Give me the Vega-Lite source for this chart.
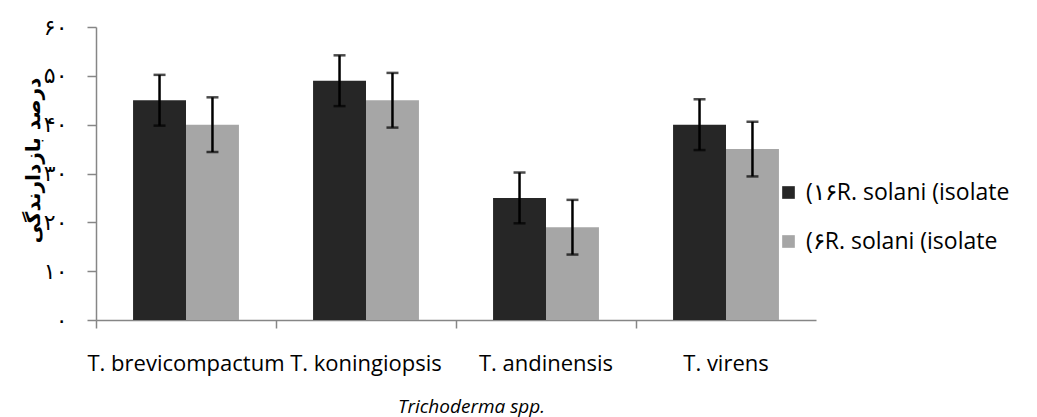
{
  "$schema": "https://vega.github.io/schema/vega-lite/v6.json",
  "width": 720,
  "height": 293,
  "autosize": {"type": "none"},
  "padding": {"left": 96, "top": 27, "right": 221, "bottom": 97},
  "background": "white",
  "data": {
    "values": [
      {"species": "T. brevicompactum", "isolate": "(۱۶R. solani (isolate", "value": 45, "lo": 39.8, "hi": 50.2},
      {"species": "T. brevicompactum", "isolate": "(۶R. solani (isolate", "value": 40, "lo": 34.4, "hi": 45.6},
      {"species": "T. koningiopsis", "isolate": "(۱۶R. solani (isolate", "value": 49, "lo": 43.8, "hi": 54.2},
      {"species": "T. koningiopsis", "isolate": "(۶R. solani (isolate", "value": 45, "lo": 39.4, "hi": 50.6},
      {"species": "T. andinensis", "isolate": "(۱۶R. solani (isolate", "value": 25, "lo": 19.8, "hi": 30.2},
      {"species": "T. andinensis", "isolate": "(۶R. solani (isolate", "value": 19, "lo": 13.4, "hi": 24.6},
      {"species": "T. virens", "isolate": "(۱۶R. solani (isolate", "value": 40, "lo": 34.8, "hi": 45.2},
      {"species": "T. virens", "isolate": "(۶R. solani (isolate", "value": 35, "lo": 29.4, "hi": 40.6}
    ]
  },
  "encoding": {
    "x": {
      "field": "species",
      "type": "nominal",
      "sort": ["T. brevicompactum", "T. koningiopsis", "T. andinensis", "T. virens"],
      "scale": {"paddingInner": 0, "paddingOuter": 0},
      "title": "Trichoderma  spp.",
      "axis": {
        "bandPosition": 0,
        "labelAngle": 0,
        "labelFont": "Open Sans",
        "labelFontSize": 22,
        "labelColor": "black",
        "labelPadding": 25,
        "labelLimit": 0,
        "tickSize": 8,
        "tickColor": "#868686",
        "domainColor": "#868686",
        "domainWidth": 1.5,
        "tickWidth": 1.5,
        "labelOverlap": false,
        "titleFont": "Open Sans",
        "titleFontSize": 19,
        "titleFontStyle": "italic",
        "titleFontWeight": "normal",
        "titleColor": "black",
        "titlePadding": 23,
        "titleX": 375
      }
    },
    "xOffset": {
      "field": "isolate",
      "type": "nominal",
      "sort": ["(۱۶R. solani (isolate", "(۶R. solani (isolate"],
      "scale": {"paddingInner": 0, "paddingOuter": 0.7}
    }
  },
  "layer": [
    {
      "mark": {"type": "bar"},
      "encoding": {
        "y": {
          "field": "value",
          "type": "quantitative",
          "scale": {"domain": [0, 60]},
          "title": "درصد بازدارندگی"
        },
        "color": {
          "field": "isolate",
          "type": "nominal",
          "scale": {"domain": ["(۱۶R. solani (isolate", "(۶R. solani (isolate"], "range": ["#262626", "#a6a6a6"]},
          "legend": {
            "orient": "none",
            "legendX": 681,
            "legendY": 154,
            "title": null,
            "symbolType": "square",
            "symbolSize": 160,
            "symbolStrokeWidth": 0,
            "labelFont": "Open Sans",
            "labelFontSize": 23,
            "labelColor": "black",
            "labelOffset": 6,
            "rowPadding": 25,
            "labelLimit": 400
          }
        }
      }
    },
    {
      "mark": {"type": "rule", "strokeWidth": 2.5, "color": "black"},
      "encoding": {
        "y": {"field": "lo", "type": "quantitative", "title": "درصد بازدارندگی"},
        "y2": {"field": "hi"}
      }
    },
    {
      "mark": {"type": "tick", "orient": "horizontal", "size": 12, "thickness": 2.5, "color": "black"},
      "encoding": {
        "y": {"field": "lo", "type": "quantitative", "title": "درصد بازدارندگی"}
      }
    },
    {
      "mark": {"type": "tick", "orient": "horizontal", "size": 12, "thickness": 2.5, "color": "black"},
      "encoding": {
        "y": {"field": "hi", "type": "quantitative", "title": "درصد بازدارندگی"}
      }
    }
  ],
  "config": {
    "view": {"stroke": null},
    "axisY": {
      "values": [0, 10, 20, 30, 40, 50, 60],
      "grid": false,
      "labelExpr": "datum.value == 0 ? '۰' : datum.value == 10 ? '۱۰' : datum.value == 20 ? '۲۰' : datum.value == 30 ? '۳۰' : datum.value == 40 ? '۴۰' : datum.value == 50 ? '۵۰' : '۶۰'",
      "labelFont": "DejaVu Sans",
      "labelFontSize": 22,
      "labelColor": "black",
      "labelPadding": 20,
      "tickSize": 9,
      "tickColor": "#868686",
      "domainColor": "#868686",
      "domainWidth": 1.5,
      "tickWidth": 1.5,
      "titleFont": "DejaVu Sans",
      "titleFontSize": 20,
      "titleFontWeight": "bold",
      "titleColor": "black",
      "titleX": -63,
      "titleY": 133,
      "titleBaseline": "middle",
      "titleAngle": -90
    }
  }
}
